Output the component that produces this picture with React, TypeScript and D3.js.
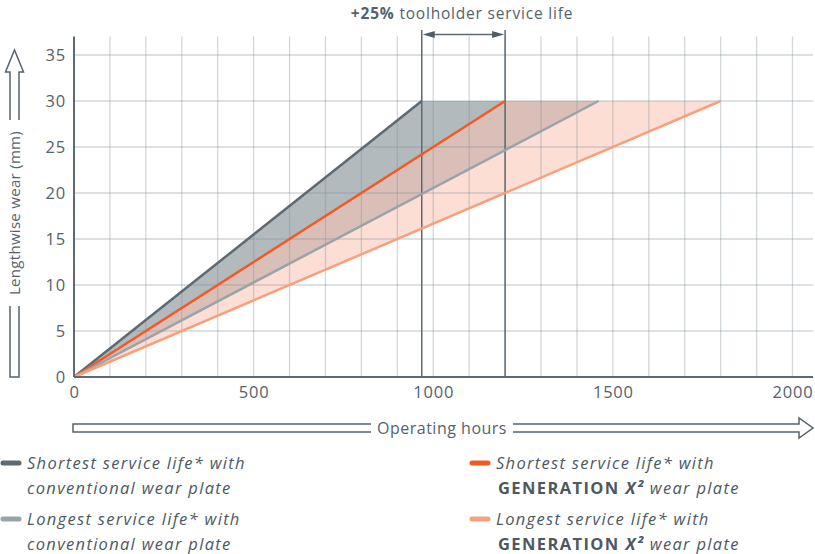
import React, { useEffect, useRef } from 'react';
import { select, scaleLinear, line, range } from 'd3';

// values
const hourTicks = [0, 500, 1000, 1500, 2000];
const hourGrid = range(0, 2001, 100);
const wearTicks = [0, 5, 10, 15, 20, 25, 30, 35];
const wearLimit = 30;

const seriesNames = [
  'shortestConventional',
  'shortestX2',
  'longestConventional',
  'longestX2'
];
const seriesEndHours = [968, 1200, 1460, 1800];
const seriesColors = ['#5d6a72', '#f15a24', '#98a3aa', '#f7a07c'];

// shaded bands between two series, drawn in this order
const bands = [
  { from: 0, to: 2, fill: '#b3babe', opacity: 1 },
  { from: 1, to: 3, fill: 'rgb(249,195,178)', opacity: 0.55 }
];

const annotationHours = [968, 1200];

const margin = { top: 55, left: 74, bottom: 177, right: 22 };
const canvasWidth = 815;
const canvasHeight = 554;
const textColor = '#55626b';
const font = '"Open Sans", Lato, sans-serif';

function WearChart() {
  const svgRef = useRef<SVGSVGElement | null>(null);

  useEffect(() => {
    const svg = select(svgRef.current);
    svg.selectAll('*').remove();

    const x = scaleLinear().domain([0, 2000]).range([margin.left, 792.5]);
    const y = scaleLinear()
      .domain([0, 35])
      .range([canvasHeight - margin.bottom, margin.top]);
    const xEnd = canvasWidth - 2;
    const yTop = y(37);

    const pts = (i: number) => [
      [0, 0],
      [seriesEndHours[i], wearLimit]
    ];
    const lineGen = line<number[]>()
      .x(d => x(d[0]))
      .y(d => y(d[1]));

    bands.forEach(b => {
      const poly = [
        [0, 0],
        [seriesEndHours[b.from], wearLimit],
        [seriesEndHours[b.to], wearLimit]
      ];
      svg
        .append('path')
        .attr('d', lineGen(poly) + 'Z')
        .attr('fill', b.fill)
        .attr('opacity', b.opacity);
    });

    // grid
    const grid = svg
      .append('g')
      .attr('stroke', '#7e8c94')
      .attr('stroke-opacity', 0.35)
      .attr('stroke-width', 1.3);
    hourGrid.slice(1).forEach(h => {
      grid
        .append('line')
        .attr('x1', x(h))
        .attr('x2', x(h))
        .attr('y1', y(0))
        .attr('y2', yTop);
    });
    wearTicks.slice(1).forEach(w => {
      grid
        .append('line')
        .attr('x1', x(0))
        .attr('x2', xEnd)
        .attr('y1', y(w))
        .attr('y2', y(w));
    });

    // annotation verticals
    annotationHours.forEach(h => {
      svg
        .append('line')
        .attr('x1', x(h))
        .attr('x2', x(h))
        .attr('y1', y(0))
        .attr('y2', 30)
        .attr('stroke', '#5d6a72')
        .attr('stroke-width', 1.5);
    });

    // series lines
    seriesNames.forEach((name, i) => {
      svg
        .append('path')
        .attr('class', name)
        .attr('d', lineGen(pts(i)))
        .attr('fill', 'none')
        .attr('stroke', seriesColors[i])
        .attr('stroke-width', 2.5);
    });

    // axes
    svg
      .append('line')
      .attr('x1', x(0))
      .attr('x2', xEnd)
      .attr('y1', y(0))
      .attr('y2', y(0))
      .attr('stroke', '#5d6a72')
      .attr('stroke-width', 2);
    svg
      .append('line')
      .attr('x1', x(0))
      .attr('x2', x(0))
      .attr('y1', y(0))
      .attr('y2', yTop)
      .attr('stroke', '#5d6a72')
      .attr('stroke-width', 2);

    const tickText = svg
      .append('g')
      .attr('font-family', font)
      .attr('font-size', 16.5)
      .attr('letter-spacing', 0.8)
      .attr('fill', textColor);
    wearTicks.forEach(w => {
      tickText
        .append('text')
        .attr('x', x(0) - 8)
        .attr('y', y(w) + 6)
        .attr('text-anchor', 'end')
        .text(w);
    });
    hourTicks.forEach(h => {
      tickText
        .append('text')
        .attr('x', x(h) + 0.5)
        .attr('y', y(0) + 21)
        .attr('text-anchor', 'middle')
        .text(h);
    });

    // +25% annotation
    const ay = 34.5;
    const ax1 = x(annotationHours[0]);
    const ax2 = x(annotationHours[1]);
    svg
      .append('line')
      .attr('x1', ax1 + 8)
      .attr('x2', ax2 - 8)
      .attr('y1', ay)
      .attr('y2', ay)
      .attr('stroke', '#5d6a72')
      .attr('stroke-width', 1.3);
    svg
      .append('path')
      .attr(
        'd',
        `M${ax1 + 1},${ay}L${ax1 + 13},${ay - 3.5}L${ax1 + 13},${ay + 3.5}Z` +
          `M${ax2 - 1},${ay}L${ax2 - 13},${ay - 3.5}L${ax2 - 13},${ay + 3.5}Z`
      )
      .attr('fill', '#4f5c64');
    const ann = svg
      .append('text')
      .attr('x', 462)
      .attr('y', 19)
      .attr('text-anchor', 'middle')
      .attr('font-family', font)
      .attr('font-size', 15.5)
      .attr('letter-spacing', 0.8)
      .attr('fill', textColor);
    ann.append('tspan').attr('font-weight', 'bold').text('+25%');
    ann.append('tspan').text(' toolholder service life');

    // hollow axis arrows
    const arrowStroke = '#56636b';
    const ax = 14.5;
    svg
      .append('path')
      .attr(
        'd',
        `M${ax - 4.5},306L${ax - 4.5},${y(0)}L${ax + 4.5},${y(0)}L${ax + 4.5},306` +
          `M${ax - 4.5},120L${ax - 4.5},72L${ax - 9},72L${ax},50L${ax + 9},72L${ax + 4.5},72L${ax + 4.5},120`
      )
      .attr('fill', 'none')
      .attr('stroke', arrowStroke)
      .attr('stroke-width', 1.5);
    svg
      .append('text')
      .attr('transform', `translate(${ax + 5.5},${213}) rotate(-90)`)
      .attr('text-anchor', 'middle')
      .attr('font-family', font)
      .attr('font-size', 15)
      .attr('letter-spacing', 0.3)
      .attr('fill', textColor)
      .text('Lengthwise wear (mm)');

    const by = 428;
    svg
      .append('path')
      .attr(
        'd',
        `M371,${by - 4}L73,${by - 4}L73,${by + 4}L371,${by + 4}` +
          `M513,${by - 4}L799,${by - 4}L799,${by - 10}L813,${by}L799,${by + 10}L799,${by + 4}L513,${by + 4}`
      )
      .attr('fill', 'none')
      .attr('stroke', arrowStroke)
      .attr('stroke-width', 1.5);
    svg
      .append('text')
      .attr('x', 442)
      .attr('y', by + 5.5)
      .attr('text-anchor', 'middle')
      .attr('font-family', font)
      .attr('font-size', 16)
      .attr('letter-spacing', 0.5)
      .attr('fill', textColor)
      .text('Operating hours');

    // legend
    const legend = [
      { s: 0, x: 0, y: 463, l1: 'Shortest service life* with', gen: false },
      { s: 2, x: 0, y: 519, l1: 'Longest service life* with', gen: false },
      { s: 1, x: 469, y: 463, l1: 'Shortest service life* with', gen: true },
      { s: 3, x: 469, y: 519, l1: 'Longest service life* with', gen: true }
    ];
    legend.forEach(d => {
      svg
        .append('line')
        .attr('x1', d.x + 3)
        .attr('x2', d.x + 19)
        .attr('y1', d.y)
        .attr('y2', d.y)
        .attr('stroke', seriesColors[d.s])
        .attr('stroke-width', 5)
        .attr('stroke-linecap', 'round');
      const t = svg
        .append('text')
        .attr('font-family', font)
        .attr('font-size', 16.5)
        .attr('letter-spacing', 1.3)
        .attr('fill', '#4c5962');
      t.append('tspan')
        .attr('x', d.x + 27)
        .attr('y', d.y + 6)
        .attr('font-style', 'italic')
        .text(d.l1);
      if (d.gen) {
        const t2 = t.append('tspan').attr('x', d.x + 29).attr('y', d.y + 31);
        t2.append('tspan')
          .attr('font-weight', 'bold')
          .attr('letter-spacing', 1.4)
          .text('GENERATION ');
        t2.append('tspan')
          .attr('font-weight', 'bold')
          .attr('font-style', 'italic')
          .text('X²');
        t2.append('tspan').attr('font-style', 'italic').text(' wear plate');
      } else {
        t.append('tspan')
          .attr('x', d.x + 27)
          .attr('y', d.y + 31)
          .attr('font-style', 'italic')
          .text('conventional wear plate');
      }
    });
  });

  return (
    <div style={{ position: 'absolute', left: 0, top: 0 }}>
      <svg ref={svgRef} width={canvasWidth} height={canvasHeight}></svg>
    </div>
  );
}

export default function App() {
  return <WearChart />;
}
